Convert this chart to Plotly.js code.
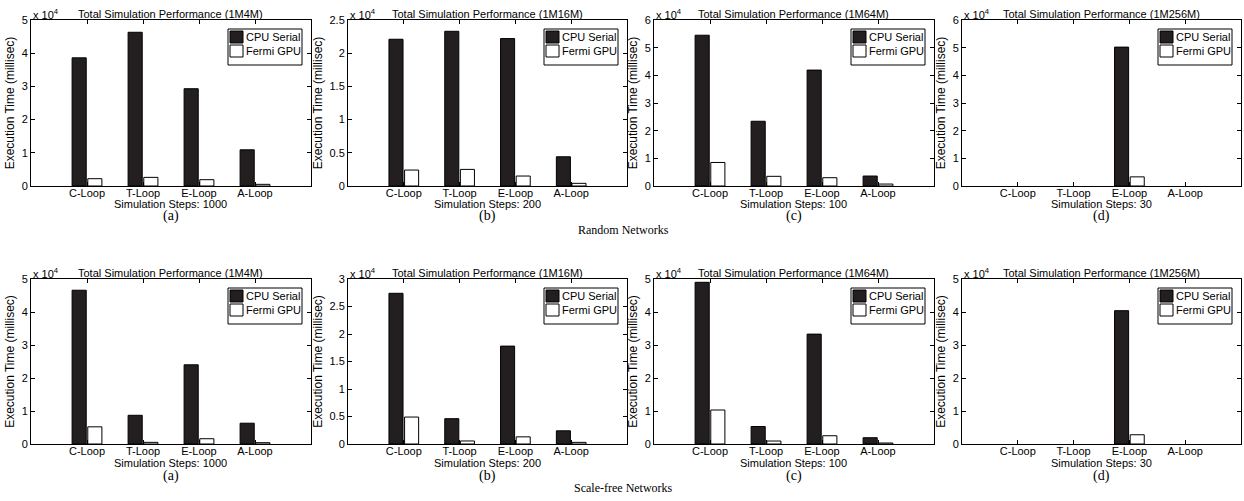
<!DOCTYPE html>
<html><head><meta charset="utf-8">
<script src="https://cdn.plot.ly/plotly-3.0.1.min.js"></script>
<style>html,body{margin:0;padding:0;background:#fff}#chart{width:1244px;height:501px}</style>
</head><body><div id="chart"></div>
<script>
// ---- data (execution time, millisec) ----
const categories = ['C-Loop', 'T-Loop', 'E-Loop', 'A-Loop'];
const seriesNames = ['CPU Serial', 'Fermi GPU'];

// Random networks
const rand1M4M_cpu   = [38600, 46300, 29300, 10900];
const rand1M4M_gpu   = [2200, 2600, 1900, 500];
const rand1M16M_cpu  = [22100, 23300, 22200, 4400];
const rand1M16M_gpu  = [2400, 2500, 1500, 400];
const rand1M64M_cpu  = [54500, 23400, 41900, 3600];
const rand1M64M_gpu  = [8500, 3500, 3000, 700];
const rand1M256M_cpu = [null, null, 50200, null];
const rand1M256M_gpu = [null, null, 3300, null];

// Scale-free networks
const sf1M4M_cpu   = [46600, 8700, 24000, 6300];
const sf1M4M_gpu   = [5200, 500, 1600, 400];
const sf1M16M_cpu  = [27400, 4600, 17800, 2400];
const sf1M16M_gpu  = [4900, 550, 1300, 300];
const sf1M64M_cpu  = [49000, 5300, 33300, 1900];
const sf1M64M_gpu  = [10300, 900, 2500, 300];
const sf1M256M_cpu = [null, null, 40400, null];
const sf1M256M_gpu = [null, null, 2800, null];

const panelNames = ['1M4M', '1M16M', '1M64M', '1M256M'];
const simSteps = ['1000', '200', '100', '30'];
const captions = ['(a)', '(b)', '(c)', '(d)'];
const rowCaptions = ['Random Networks', 'Scale-free Networks'];
// y axis tick values in units of 10^4 ms
const yTicksRow1 = [[0,1,2,3,4,5], [0,0.5,1,1.5,2,2.5], [0,1,2,3,4,5,6], [0,1,2,3,4,5,6]];
const yTicksRow2 = [[0,1,2,3,4,5], [0,0.5,1,1.5,2,2.5,3], [0,1,2,3,4,5], [0,1,2,3,4,5]];

const cpuData = [rand1M4M_cpu, rand1M16M_cpu, rand1M64M_cpu, rand1M256M_cpu,
                 sf1M4M_cpu, sf1M16M_cpu, sf1M64M_cpu, sf1M256M_cpu];
const gpuData = [rand1M4M_gpu, rand1M16M_gpu, rand1M64M_gpu, rand1M256M_gpu,
                 sf1M4M_gpu, sf1M16M_gpu, sf1M64M_gpu, sf1M256M_gpu];

// ---- layout geometry (px) ----
const W = 1244, H = 501;
const colX = [[31, 311], [348, 627], [654, 934], [962, 1241]];
const rowY = [[20, 186], [279, 444]];
const rowText = [ // title, xTitle, caption, row caption
  {title: 14, xt: 204, cap: 216, row: 230},
  {title: 273, xt: 463, cap: 476, row: 488}
];
const FONT = 'Liberation Sans, Arial, sans-serif';
const SERIF = 'Liberation Serif, Times New Roman, serif';

const px = x => x / W;
const py = y => 1 - y / H;

const traces = [];
const layout = {
  width: W, height: H,
  margin: {l: 0, r: 0, t: 0, b: 0},
  paper_bgcolor: '#fff', plot_bgcolor: '#fff',
  showlegend: false,
  barmode: 'group', bargap: 0.44, bargroupgap: 0.1,
  font: {family: FONT, size: 11, color: '#000'},
  annotations: [], shapes: []
};

for (let i = 0; i < 8; i++) {
  const r = Math.floor(i / 4), c = i % 4;
  const s = i === 0 ? '' : String(i + 1);
  const xa = 'x' + s, ya = 'y' + s;
  const [L, R] = colX[c];
  const [T, B] = rowY[r];
  const ticks = (r === 0 ? yTicksRow1 : yTicksRow2)[c];
  const yMax = ticks[ticks.length - 1] * 1e4;

  traces.push({
    type: 'bar', x: categories, y: cpuData[i], name: seriesNames[0],
    xaxis: xa, yaxis: ya,
    marker: {color: '#231f20', line: {color: '#000', width: 1}},
    hoverinfo: 'x+y+name'
  });
  traces.push({
    type: 'bar', x: categories, y: gpuData[i], name: seriesNames[1],
    xaxis: xa, yaxis: ya,
    marker: {color: '#ffffff', line: {color: '#000', width: 1}},
    hoverinfo: 'x+y+name'
  });

  layout['xaxis' + s] = {
    domain: [px(L), px(R)], anchor: ya,
    type: 'category', categoryorder: 'array', categoryarray: categories,
    range: [-1, 4], fixedrange: true,
    showline: true, linecolor: '#000', linewidth: 1, mirror: 'ticks',
    ticks: 'inside', ticklen: 4, tickcolor: '#000', tickwidth: 1,
    ticklabelstandoff: -3,
    showgrid: false, zeroline: false,
    tickfont: {family: FONT, size: 11, color: '#000'}
  };
  layout['yaxis' + s] = {
    domain: [py(B), py(T)], anchor: xa,
    range: [0, yMax], fixedrange: true,
    tickvals: ticks.map(v => v * 1e4), ticktext: ticks.map(v => String(v)),
    showline: true, linecolor: '#000', linewidth: 1, mirror: 'ticks',
    ticks: 'inside', ticklen: 4, tickcolor: '#000', tickwidth: 1,
    showgrid: false, zeroline: false,
    tickfont: {family: FONT, size: 11, color: '#000'},
    title: {text: 'Execution Time (millisec)', font: {family: FONT, size: 12, color: '#000'}, standoff: 4}
  };

  const cx = (L + R) / 2;
  const rt = rowText[r];
  layout.annotations.push(
    {xref: 'paper', yref: 'paper', x: px(cx), y: py(rt.title), xanchor: 'center', yanchor: 'middle',
     text: 'Total Simulation Performance (' + panelNames[c] + ')', showarrow: false,
     font: {family: FONT, size: 11, color: '#000'}},
    {xref: 'paper', yref: 'paper', x: px(L), y: py(T - 6), xanchor: 'left', yanchor: 'middle',
     text: 'x 10<sup>4</sup>', showarrow: false, font: {family: FONT, size: 11, color: '#000'}},
    {xref: 'paper', yref: 'paper', x: px(cx), y: py(rt.xt), xanchor: 'center', yanchor: 'middle',
     text: 'Simulation Steps: ' + simSteps[c], showarrow: false,
     font: {family: FONT, size: 11, color: '#000'}},
    {xref: 'paper', yref: 'paper', x: px(cx), y: py(rt.cap), xanchor: 'center', yanchor: 'middle',
     text: captions[c], showarrow: false, font: {family: SERIF, size: 14, color: '#000'}}
  );

  // legend box (drawn like the MATLAB legend)
  const bx1 = R - 9, bx0 = bx1 - 74, by0 = T + 9, by1 = T + 45;
  layout.shapes.push(
    {type: 'rect', xref: 'paper', yref: 'paper', x0: px(bx0), x1: px(bx1), y0: py(by1), y1: py(by0),
     fillcolor: '#fff', line: {color: '#000', width: 1}, layer: 'above'},
    {type: 'rect', xref: 'paper', yref: 'paper', x0: px(bx0 + 2), x1: px(bx0 + 15), y0: py(by0 + 14), y1: py(by0 + 2),
     fillcolor: '#231f20', line: {color: '#000', width: 1}, layer: 'above'},
    {type: 'rect', xref: 'paper', yref: 'paper', x0: px(bx0 + 2), x1: px(bx0 + 15), y0: py(by0 + 28), y1: py(by0 + 16),
     fillcolor: '#fff', line: {color: '#000', width: 1}, layer: 'above'}
  );
  layout.annotations.push(
    {xref: 'paper', yref: 'paper', x: px(bx0 + 16), y: py(by0 + 8), xanchor: 'left', yanchor: 'middle',
     text: seriesNames[0], showarrow: false, font: {family: FONT, size: 11, color: '#000'}},
    {xref: 'paper', yref: 'paper', x: px(bx0 + 16), y: py(by0 + 22), xanchor: 'left', yanchor: 'middle',
     text: seriesNames[1], showarrow: false, font: {family: FONT, size: 11, color: '#000'}}
  );
}

rowCaptions.forEach((t, r) => {
  layout.annotations.push({xref: 'paper', yref: 'paper', x: px(623), y: py(rowText[r].row),
    xanchor: 'center', yanchor: 'middle', text: t, showarrow: false,
    font: {family: SERIF, size: 12, color: '#000'}});
});

Plotly.newPlot('chart', traces, layout, {displayModeBar: false, staticPlot: true});
</script>
</body></html>
